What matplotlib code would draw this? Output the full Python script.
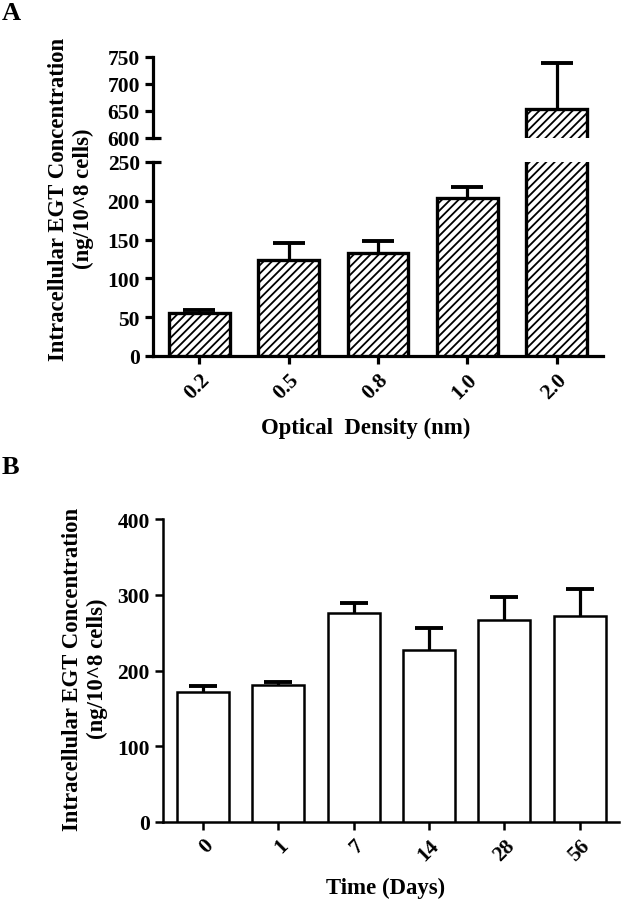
import numpy as np
import matplotlib
matplotlib.use('Agg')
import matplotlib.pyplot as plt

# Panel A: EGT vs optical density
od_labels = ['0.2', '0.5', '0.8', '1.0', '2.0']
od_means = [55, 124, 133, 204, 653]
od_errs = [4, 22, 15, 14, 85]

# Panel B: EGT vs time
day_labels = ['0', '1', '7', '14', '28', '56']
day_means = [171, 181, 276, 227, 267, 272]
day_errs = [8, 4, 13, 29, 30, 35]

ylabel = 'Intracellular EGT Concentration\n(ng/10^8 cells)'

plt.rcParams['font.family'] = ['Liberation Serif', 'DejaVu Serif']
plt.rcParams['font.weight'] = 'bold'
plt.rcParams['hatch.linewidth'] = 1.3

W, H = 633, 903
TICK_FS = 15.5
LABEL_FS = 16.4
fig = plt.figure(figsize=(W / 100, H / 100), dpi=100, facecolor='white')


def px_axes(x0, y0, x1, y1):
    # pixel box (top-left origin) -> figure axes
    return fig.add_axes([x0 / W, 1 - y1 / H, (x1 - x0) / W, (y1 - y0) / H])


def style_axis(ax, lw):
    for side in ['top', 'right']:
        ax.spines[side].set_visible(False)
    for side in ['left', 'bottom']:
        ax.spines[side].set_linewidth(lw)
    ax.tick_params(width=lw, length=6, labelsize=TICK_FS)


def draw_bars(ax, means, errs, width, hatch, lw, capsize):
    x = np.arange(len(means))
    ax.bar(x, means, width=width, facecolor='white', edgecolor='black',
           linewidth=lw, hatch=hatch, zorder=3)
    eb = ax.errorbar(x, means, yerr=[np.zeros(len(errs)), errs], fmt='none',
                     ecolor='black', elinewidth=2.3, capsize=capsize,
                     capthick=2.8, zorder=2)
    # only the upper cap is shown
    for cap in eb[1]:
        if np.allclose(cap.get_ydata(), means):
            cap.set_visible(False)
    return x


# ---- Panel A ----
ax_lo = px_axes(153, 163, 603, 357)
ax_hi = px_axes(153, 58, 603, 139)

for ax in (ax_lo, ax_hi):
    x = draw_bars(ax, od_means, od_errs, 0.68, '////', 2.4, 11.5)
    ax.set_xlim(-0.52, 4.52)
    style_axis(ax, 2.3)

ax_lo.set_ylim(0, 250)
ax_lo.set_yticks([0, 50, 100, 150, 200, 250])
ax_hi.set_ylim(600, 750)
ax_hi.set_yticks([600, 650, 700, 750])
ax_hi.spines['bottom'].set_visible(False)
ax_hi.tick_params(axis='x', bottom=False, labelbottom=False)

# break marks: ticks at 250 and 600 poke into the plot as well
for ax, val in ((ax_lo, 250), (ax_hi, 600)):
    ax.yaxis.remove_overlapping_locs = False
    ax.set_yticks([val], minor=True)
    ax.tick_params(axis='y', which='minor', direction='in', length=6, width=2.3)

ax_lo.set_xticks(x)
ax_lo.set_xticklabels(od_labels, rotation=45, ha='right', va='top',
                      rotation_mode='anchor', fontweight='bold')
for lab in ax_lo.get_yticklabels() + ax_hi.get_yticklabels():
    lab.set_fontweight('bold')
ax_lo.set_xlabel('Optical  Density (nm)', fontsize=LABEL_FS, fontweight='bold',
                 va='center')
ax_lo.xaxis.set_label_coords(0.473, -0.366)

fig.text(71 / W, 1 - 199 / H, ylabel, rotation=90, ha='center', va='center',
         fontsize=LABEL_FS, fontweight='bold', linespacing=1.25)
fig.text(2 / W, 1 - 14 / H, 'A', fontsize=19, fontweight='heavy',
         ha='left', va='center')

# ---- Panel B ----
ax_b = px_axes(163, 520, 619, 823)
x = draw_bars(ax_b, day_means, day_errs, 0.69, None, 1.8, 10)
ax_b.set_xlim(-0.53, 5.52)
ax_b.set_ylim(0, 400)
ax_b.set_yticks([0, 100, 200, 300, 400])
style_axis(ax_b, 1.8)
ax_b.set_xticks(x)
ax_b.set_xticklabels(day_labels, rotation=45, ha='right', va='top',
                     rotation_mode='anchor', fontweight='bold')
for lab in ax_b.get_yticklabels():
    lab.set_fontweight('bold')
ax_b.set_xlabel('Time (Days)', fontsize=LABEL_FS, fontweight='bold',
                va='center')
ax_b.xaxis.set_label_coords(0.487, -0.215)

fig.text(85 / W, 1 - 669 / H, ylabel, rotation=90, ha='center', va='center',
         fontsize=LABEL_FS, fontweight='bold', linespacing=1.25)
fig.text(2 / W, 1 - 468 / H, 'B', fontsize=19, fontweight='heavy',
         ha='left', va='center')

fig.savefig('out.png', dpi=100, facecolor='white')
